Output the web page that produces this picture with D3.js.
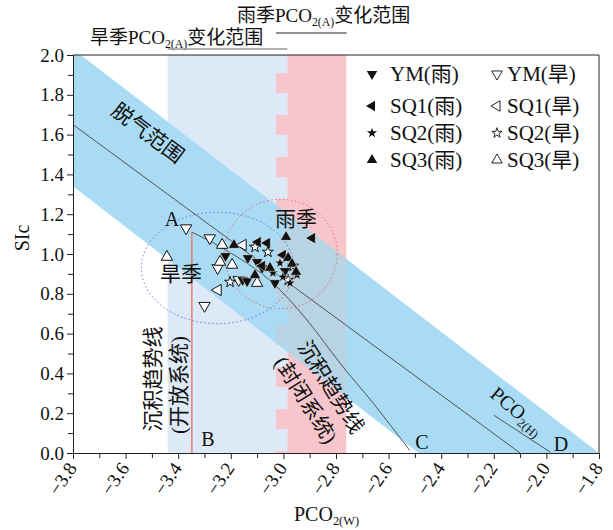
<!DOCTYPE html>
<html>
<head>
<meta charset="utf-8">
<script src="https://cdn.jsdelivr.net/npm/d3@7/dist/d3.min.js"></script>
<style>
body{margin:0;background:#fff;}
text{font-family:"Liberation Serif","Times New Roman","Noto Sans CJK SC",serif;fill:#111;}
</style>
</head>
<body>
<div id="chart"></div>
<script>
// SIc vs PCO2(W) scatter with degassing band and trend lines

// --- data ---
var ymRain  = [[-3.22,0.99],[-3.135,0.98],[-3.10,0.96],[-3.155,0.87],[-3.138,0.864],[-3.032,0.854],[-2.994,0.915],[-3.081,0.93]];
var ymDry   = [[-3.37,1.13],[-3.28,1.08],[-3.25,0.93],[-3.30,0.74],[-3.17,0.87]];
var sq1Rain = [[-3.097,1.06],[-3.062,1.055],[-2.891,1.08],[-3.002,0.995],[-3.081,0.94]];
var sq1Dry  = [[-3.154,1.045],[-3.249,0.819]];
var sq2Rain = [[-3.013,0.955],[-3.04,0.905],[-2.975,0.854],[-2.948,0.894],[-3.002,0.884]];
var sq2Dry  = [[-3.203,0.859],[-3.059,1.01],[-3.108,1.035],[-2.982,0.869],[-2.963,0.94]];
var sq3Rain = [[-3.188,1.045],[-2.99,1.085],[-3.108,0.894],[-3.051,0.93],[-2.982,0.98],[-2.967,0.95],[-2.952,0.91]];
var sq3Dry  = [[-3.233,1.045],[-3.241,0.96],[-3.195,0.945],[-3.443,0.985],[-3.10,0.854]];

var xTicks = [-3.8,-3.6,-3.4,-3.2,-3.0,-2.8,-2.6,-2.4,-2.2,-2.0,-1.8];
var yTicks = [0,0.2,0.4,0.6,0.8,1.0,1.2,1.4,1.6,1.8,2.0];

var dryRange  = [-3.44,-2.985];   // 旱季 PCO2(A)
var rainRange = [-2.985,-2.76];   // 雨季 PCO2(A)
var notchLeft = -3.028;

var degasBand   = [[-3.8,2.03],[-1.8,0],[-2.486,0],[-3.8,1.34]];
var equilLine   = [[-3.8,1.65],[-2.10,0]];
var closedTrend = [[-3.348,1.11],[-3.2,1.005],[-3.04,0.854],[-2.91,0.668],[-2.785,0.452],[-2.659,0.251],[-2.519,0.012]];
var openTrend   = [[-3.348,1.11],[-3.348,0]];
var pco2hLine   = [[-2.20,0.19],[-1.985,0.004]];

var dryEllipse  = {cx:-3.25, cy:0.93, rx:0.29, ry:0.28};
var rainEllipse = {cx:-3.01, cy:1.0,  rx:0.215, ry:0.275};

// --- setup ---
var W = 613, H = 530;
var margin = {top:55, left:73, right:14, bottom:77};

var svg = d3.select("#chart").append("svg")
    .attr("width", W)
    .attr("height", H);

var x = d3.scaleLinear().domain([-3.8,-1.8]).range([margin.left, W - margin.right]);
var y = d3.scaleLinear().domain([0,2]).range([H - margin.bottom, margin.top]);

var defs = svg.append("defs");
defs.append("clipPath").attr("id","plotClip")
    .append("rect")
    .attr("x", x(-3.8)).attr("y", y(2))
    .attr("width", x(-1.8)-x(-3.8)).attr("height", y(0)-y(2));

// pink region with its notched left edge
var notchY = d3.range(y(2)+18, y(0), 42);
var pinkClip = defs.append("clipPath").attr("id","pinkClip");
pinkClip.append("rect")
    .attr("x", x(rainRange[0])).attr("y", y(2))
    .attr("width", x(rainRange[1])-x(rainRange[0])).attr("height", y(0)-y(2));
pinkClip.selectAll("rect.n").data(notchY).enter().append("rect")
    .attr("class","n")
    .attr("x", x(notchLeft)).attr("y", d=>d)
    .attr("width", x(rainRange[0])-x(notchLeft)).attr("height", 20);

var plot = svg.append("g").attr("clip-path","url(#plotClip)");

plot.append("rect")
    .attr("x", x(dryRange[0])).attr("y", y(2))
    .attr("width", x(dryRange[1])-x(dryRange[0])).attr("height", y(0)-y(2))
    .attr("fill","#dde9f6");

plot.append("rect")
    .attr("x", x(notchLeft)).attr("y", y(2))
    .attr("width", x(rainRange[1])-x(notchLeft)).attr("height", y(0)-y(2))
    .attr("fill","#f7c6cc")
    .attr("clip-path","url(#pinkClip)");

var poly = d3.line().x(d=>x(d[0])).y(d=>y(d[1]));

plot.append("path")
    .attr("d", poly(degasBand) + "Z")
    .attr("fill","#a9dcf4");

plot.append("g").attr("clip-path","url(#pinkClip)")
    .append("path")
    .attr("d", poly(degasBand) + "Z")
    .attr("fill","#b8d3e3");

// dotted season ellipses
[[dryEllipse,"#6b73d8"],[rainEllipse,"#e8666a"]].forEach(function(e){
    var el = e[0];
    plot.append("ellipse")
        .attr("cx", x(el.cx)).attr("cy", y(el.cy))
        .attr("rx", x(el.cx+el.rx)-x(el.cx)).attr("ry", y(el.cy)-y(el.cy+el.ry))
        .attr("fill","none")
        .attr("stroke", e[1])
        .attr("stroke-width",1)
        .attr("stroke-dasharray","1.5,2.5");
});

// lines
plot.append("path").attr("d", poly(equilLine))
    .attr("fill","none").attr("stroke","#444").attr("stroke-width",0.9);
plot.append("path").attr("d", d3.line().x(d=>x(d[0])).y(d=>y(d[1])).curve(d3.curveMonotoneX)(closedTrend))
    .attr("fill","none").attr("stroke","#444").attr("stroke-width",0.9);
plot.append("path").attr("d", poly(openTrend))
    .attr("fill","none").attr("stroke","#e56f5e").attr("stroke-width",1.3);
plot.append("path").attr("d", poly(pco2hLine))
    .attr("fill","none").attr("stroke","#444").attr("stroke-width",0.9);

// points
var series = [
    {name:"YM",  rain:ymRain,  dry:ymDry,  type:d3.symbolTriangle, rot:180, size:56},
    {name:"SQ1", rain:sq1Rain, dry:sq1Dry, type:d3.symbolTriangle, rot:-90, size:56},
    {name:"SQ2", rain:sq2Rain, dry:sq2Dry, type:d3.symbolStar,     rot:0,   size:38},
    {name:"SQ3", rain:sq3Rain, dry:sq3Dry, type:d3.symbolTriangle, rot:0,   size:56}
];

var pts = plot.append("g");
series.forEach(function(s){
    var sym = d3.symbol().type(s.type).size(s.size);
    pts.selectAll(null).data(s.dry).enter().append("path")
        .attr("d", sym)
        .attr("transform", d=>"translate("+x(d[0])+","+y(d[1])+") rotate("+s.rot+")")
        .attr("fill","#fff").attr("stroke","#111").attr("stroke-width",1);
    pts.selectAll(null).data(s.rain).enter().append("path")
        .attr("d", sym)
        .attr("transform", d=>"translate("+x(d[0])+","+y(d[1])+") rotate("+s.rot+")")
        .attr("fill","#111").attr("stroke","#fff").attr("stroke-width",0.5);
});

// legend
var legRows = [74,106,133,160];
var leg = svg.append("g");
series.forEach(function(s,i){
    var sym = d3.symbol().type(s.type).size(s.size*0.85);
    leg.append("path").attr("d", sym)
        .attr("transform","translate(372,"+legRows[i]+") rotate("+s.rot+")")
        .attr("fill","#111");
    leg.append("text").attr("x",390).attr("y",legRows[i]).attr("dy","0.35em")
        .attr("font-size","21px").text(s.name+"(雨)");
    leg.append("path").attr("d", sym)
        .attr("transform","translate(497,"+legRows[i]+") rotate("+s.rot+")")
        .attr("fill","#fff").attr("stroke","#111").attr("stroke-width",0.9);
    leg.append("text").attr("x",507).attr("y",legRows[i]).attr("dy","0.35em")
        .attr("font-size","21px").text(s.name+"(旱)");
});

// annotations
function label(txt, px, py, rot, size){
    svg.append("text")
        .attr("transform","translate("+px+","+py+") rotate("+rot+")")
        .attr("text-anchor","middle").attr("dy","0.35em")
        .attr("font-size", size+"px")
        .text(txt);
}
label("脱气范围", 148, 133, 37, 21);
label("雨季", 296, 219, 0, 21);
label("旱季", 181, 274, 0, 21);
label("A", 172, 219, 0, 20);
label("B", 208, 439, 0, 20);
label("C", 422, 442, 0, 20);
label("D", 561, 444, 0, 20);
label("沉积趋势线", 153, 379, -90, 21);
label("(开放系统)", 179, 385, -90, 21);
label("沉积趋势线", 331, 387, 58, 21);
label("(封闭系统)", 306, 400, 58, 21);

// text with subscript part
function subText(g, parts, size){
    var t = g.append("text").attr("font-size", size+"px");
    parts.forEach(function(p){
        if(p.sub){
            t.append("tspan").attr("font-size",(size*0.62)+"px").attr("dy", size*0.2).text(p.t);
        } else {
            t.append("tspan").attr("dy", p.after ? -size*0.2 : 0).text(p.t);
        }
    });
    return t;
}

var h = svg.append("g").attr("transform","translate(489,396) rotate(40)");
subText(h, [{t:"PCO"},{t:"2(H)",sub:true}], 20);

var t1 = svg.append("g").attr("transform","translate(237,22)");
subText(t1, [{t:"雨季PCO"},{t:"2(A)",sub:true},{t:"变化范围",after:true}], 19);
var t2 = svg.append("g").attr("transform","translate(90,44)");
subText(t2, [{t:"旱季PCO"},{t:"2(A)",sub:true},{t:"变化范围",after:true}], 19);

svg.append("line")
    .attr("x1", x(notchLeft)).attr("x2", x(rainRange[1]))
    .attr("y1", 33).attr("y2", 33)
    .attr("stroke","#222").attr("stroke-width",1);
svg.append("line")
    .attr("x1", x(dryRange[0])).attr("x2", x(dryRange[1]))
    .attr("y1", 49).attr("y2", 49)
    .attr("stroke","#999").attr("stroke-width",1.5);

// axes
var fmt = d3.format(".1f");
var xMinor = d3.range(-3.7,-1.8,0.2);
var yMinor = d3.range(0.1,2,0.2);

svg.append("g")
    .attr("transform","translate(0,"+y(0)+")")
    .call(d3.axisBottom(x).tickValues(xMinor).tickSize(5).tickFormat(""))
    .call(g=>g.select(".domain").remove());
var xAxis = svg.append("g")
    .attr("transform","translate(0,"+y(0)+")")
    .call(d3.axisBottom(x).tickValues(xTicks).tickSizeOuter(0).tickSize(6).tickFormat(fmt));
xAxis.selectAll("text")
    .attr("x",0).attr("y",0).attr("dy",0)
    .attr("text-anchor","end")
    .attr("font-size","19px")
    .attr("transform","translate(4,15) rotate(-56)");

svg.append("g")
    .attr("transform","translate("+x(-3.8)+",0)")
    .call(d3.axisLeft(y).tickValues(yMinor).tickSize(5).tickFormat(""))
    .call(g=>g.select(".domain").remove());
var yAxis = svg.append("g")
    .attr("transform","translate("+x(-3.8)+",0)")
    .call(d3.axisLeft(y).tickValues(yTicks).tickSizeOuter(0).tickSize(6).tickFormat(fmt));
yAxis.selectAll("text").attr("font-size","19px").attr("x",-9);

svg.selectAll(".tick line, .domain").attr("stroke","#222");
svg.selectAll(".tick text").attr("font-family",null);

// frame
svg.append("path")
    .attr("d","M"+x(-3.8)+","+y(2)+"H"+x(-1.8)+"V"+y(0))
    .attr("fill","none").attr("stroke","#222").attr("stroke-width",1);

// axis titles
svg.append("text")
    .attr("transform","translate(22,238) rotate(-90)")
    .attr("text-anchor","middle").attr("dy","0.35em")
    .attr("font-size","20px").text("SIc");
var xt = svg.append("g").attr("transform","translate(294,521)");
subText(xt, [{t:"PCO"},{t:"2(W)",sub:true}], 20);
</script>
</body>
</html>
